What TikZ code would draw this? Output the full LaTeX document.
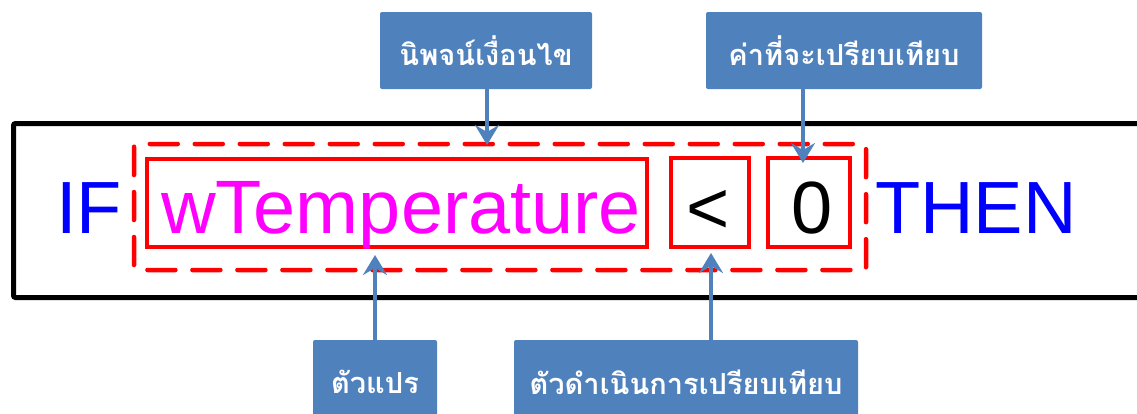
\documentclass[tikz,border=0pt]{standalone}
\usepackage{fontspec}
\setmainfont{Liberation Sans}
\newfontfamily\thaifont[Script=Thai]{Loma}
\usetikzlibrary{arrows.meta}
\definecolor{callblue}{HTML}{4F81BD}
\definecolor{puremagenta}{HTML}{FF00FF}
\definecolor{pureblue}{HTML}{0000FF}
\definecolor{purered}{HTML}{FF0000}
\tikzset{
  codetext/.style={inner sep=0pt, anchor=base, font=\fontsize{74}{74}\selectfont},
  redbox/.style={draw=purered, line width=3.5pt, inner sep=0pt},
  dashbox/.style={draw=purered, line width=4.5pt, dash pattern=on 28pt off 17pt, line cap=round, rounded corners=3pt},
  callout/.style={fill=callblue, text=white, inner sep=0pt, rounded corners=2pt, font=\thaifont\bfseries\fontsize{29}{33}\selectfont},
  pointer/.style={draw=callblue, line width=4pt, -{Stealth[length=20pt, width=24pt, inset=7pt]}},
}
\begin{document}
\begin{tikzpicture}[x=1pt, y=-1pt]
\useasboundingbox (0,0) rectangle (1137,413);
% outer black box
\draw[line width=5pt, rounded corners=2pt] (13.5,123.5) rectangle (1150,297.5);
% dashed condition box
\draw[dashbox] (134,144) rectangle (866,270);
% solid red boxes
\node[redbox, minimum width=500pt, minimum height=88pt] (vbox) at (397,203) {};
\node[redbox, minimum width=78pt, minimum height=89pt] (obox) at (710,202.5) {};
\node[redbox, minimum width=82pt, minimum height=89pt] (zbox) at (809,202.5) {};
% code text
\node[codetext, text=pureblue] (if) at (89,233) {IF};
\node[codetext, text=puremagenta, anchor=base west, font=\fontsize{75.7}{76}\selectfont] (var) at (161,233) {wTemperature};
\node[codetext] (op) at (708,233) {<};
\node[codetext] (zero) at (812,233) {0};
\node[codetext, text=pureblue, anchor=base west] (then) at (875,233) {THEN};
% callouts
\node[callout, minimum width=212pt, minimum height=77pt] (c1) at (486,50.5) {นิพจน์เงื่อนไข};
\node[callout, minimum width=276pt, minimum height=77pt] (c2) at (844,50.5) {ค่าที่จะเปรียบเทียบ};
\node[callout, minimum width=124pt, minimum height=84pt] (c3) at (375,382) {ตัวแปร};
\node[callout, minimum width=344pt, minimum height=84pt] (c4) at (686,382) {ตัวดำเนินการเปรียบเทียบ};
% arrow tips
\coordinate (t1) at (487,145);
\coordinate (t2) at (803,163);
\coordinate (t3) at (375,255);
\coordinate (t4) at (711,253);
\draw[pointer] (c1.south -| t1) -- (t1);
\draw[pointer] (c2.south -| t2) -- (t2);
\draw[pointer] (c3.north -| t3) -- (t3);
\draw[pointer] (c4.north -| t4) -- (t4);
\end{tikzpicture}
\end{document}
